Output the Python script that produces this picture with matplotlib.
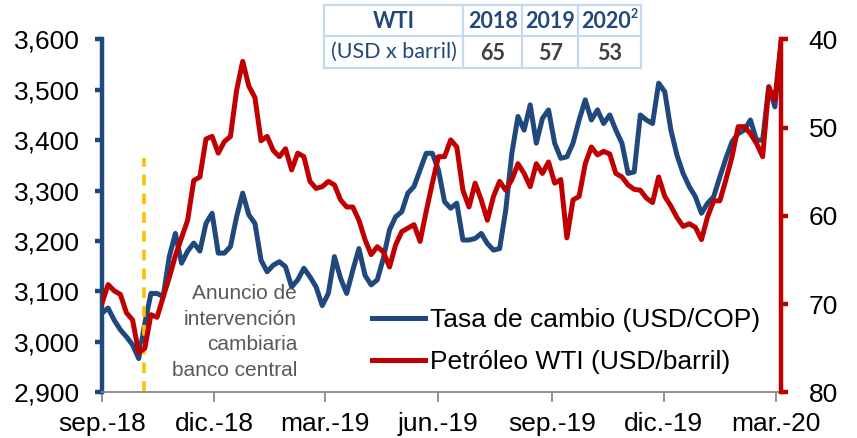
import matplotlib
matplotlib.use("Agg")
import matplotlib.pyplot as plt
import matplotlib.ticker as mticker
import pandas as pd
from matplotlib.patches import Rectangle

# tasa de cambio USD/COP, lecturas cada ~5 dias (sep-2018 a mar-2020)
cop = [3057, 3067, 3043, 3024, 3010, 2994, 2967, 3037, 3096, 3096,
       3090, 3169, 3215, 3156, 3180, 3196, 3180, 3235, 3255, 3176,
       3176, 3189, 3248, 3295, 3252, 3235, 3162, 3139, 3152, 3159,
       3149, 3109, 3123, 3146, 3129, 3109, 3072, 3096, 3169, 3126,
       3096, 3142, 3185, 3132, 3113, 3123, 3166, 3222, 3248, 3258,
       3295, 3308, 3341, 3374, 3374, 3341, 3278, 3265, 3275, 3202,
       3202, 3205, 3215, 3195, 3182, 3185, 3261, 3374, 3447, 3420,
       3470, 3394, 3443, 3460, 3394, 3364, 3367, 3394, 3440, 3480,
       3440, 3460, 3433, 3450, 3420, 3394, 3334, 3337, 3450, 3440,
       3433, 3513, 3496, 3420, 3370, 3334, 3308, 3288, 3255, 3275,
       3288, 3327, 3364, 3397, 3413, 3420, 3440, 3400, 3400, 3506,
       3466, 3590]

# petroleo WTI USD/barril
wti = [69.9, 67.8, 68.5, 68.9, 71.0, 71.8, 75.5, 75.0, 71.2, 71.5,
       69.2, 67.0, 64.5, 62.5, 60.5, 56.0, 55.6, 51.3, 51.0, 52.9,
       51.6, 51.0, 45.8, 42.5, 45.3, 46.6, 51.5, 51.0, 52.6, 53.3,
       52.4, 54.8, 52.9, 53.3, 56.1, 56.9, 56.7, 56.1, 56.5, 58.2,
       59.0, 59.0, 60.5, 62.7, 64.4, 63.5, 64.1, 65.8, 63.3, 61.8,
       61.4, 61.0, 62.9, 59.5, 56.3, 53.3, 53.3, 51.4, 52.2, 57.1,
       59.0, 56.3, 58.2, 60.5, 57.8, 56.1, 57.1, 55.9, 54.1, 55.2,
       56.7, 54.1, 55.2, 53.9, 56.3, 55.9, 62.5, 58.2, 57.8, 54.1,
       52.2, 53.1, 52.7, 53.0, 55.2, 55.6, 56.5, 57.0, 57.1, 58.0,
       58.5, 55.6, 57.8, 58.9, 60.2, 61.2, 60.9, 61.3, 62.7, 60.1,
       58.3, 58.3, 55.9, 53.3, 49.9, 49.9, 50.7, 51.8, 53.3, 45.4,
       46.9, 40.3]

dates = pd.date_range("2018-09-01", "2020-03-05", periods=len(cop))
event_date = pd.Timestamp("2018-10-05")
event_top = 3365

tick_dates = pd.to_datetime(["2018-09-01", "2018-12-01", "2019-03-01", "2019-06-01",
                             "2019-09-01", "2019-12-01", "2020-03-01"])
tick_labels = ["sep.-18", "dic.-18", "mar.-19", "jun.-19", "sep.-19", "dic.-19", "mar.-20"]

table_years = ["2018", "2019", "2020"]
table_values = ["65", "57", "53"]

BLUE = "#1F497D"
RED = "#C00000"
GOLD = "#FFC000"
GREY = "#898989"

plt.rcParams["font.family"] = ["Liberation Sans", "DejaVu Sans"]
plt.rcParams["font.size"] = 19

fig = plt.figure(figsize=(8.57, 4.38), dpi=100)
ax = fig.add_axes([102 / 857, 1 - 392.3 / 438, 679 / 857, 353 / 438])
ax2 = ax.twinx()

ax.plot(dates, cop, color=BLUE, lw=3.6, solid_joinstyle="round", label="Tasa de cambio (USD/COP)")
ax2.plot(dates, wti, color=RED, lw=3.6, solid_joinstyle="round", label="Petróleo WTI (USD/barril)")
ax.plot([event_date, event_date], [2900, event_top], color=GOLD, lw=2.6, ls=(0, (3, 2.2)))

ax.set_xlim(dates[0], dates[-1])
ax.set_ylim(2900, 3600)
ax.yaxis.set_major_locator(mticker.MultipleLocator(100))
ax.yaxis.set_major_formatter(mticker.StrMethodFormatter("{x:,.0f}"))
ax2.set_ylim(80, 40)
ax2.yaxis.set_major_locator(mticker.MultipleLocator(10))

ax.set_xticks(tick_dates)
ax.set_xticklabels(tick_labels)

for a in (ax, ax2):
    a.spines["top"].set_visible(False)
ax.spines["right"].set_visible(False)
ax2.spines["left"].set_visible(False)
ax2.spines["bottom"].set_visible(False)
ax.spines["left"].set_color(BLUE)
ax.spines["left"].set_linewidth(3.2)
ax2.spines["right"].set_color(RED)
ax2.spines["right"].set_linewidth(3.2)
ax.spines["bottom"].set_color(GREY)
ax.spines["bottom"].set_linewidth(1.3)

ax.tick_params(axis="y", colors=BLUE, labelcolor="black", width=3.2, length=5, pad=11, labelsize=19)
ax2.tick_params(axis="y", colors=RED, labelcolor="black", width=3.2, length=5, pad=15, labelsize=19)
ax.tick_params(axis="x", colors=GREY, labelcolor="black", width=1.3, length=7, pad=7, labelsize=19)

h1, l1 = ax.get_legend_handles_labels()
h2, l2 = ax2.get_legend_handles_labels()
ax2.legend(h1 + h2, l1 + l2, loc="upper left", bbox_to_anchor=(372 / 857, 1 - 308 / 438),
           bbox_transform=fig.transFigure, frameon=False, fontsize=19, handlelength=2.0,
           handletextpad=0.2, labelspacing=0.68, borderpad=0, borderaxespad=0)

fig.text(297 / 857, 1 - 284 / 438, "Anuncio de\nintervención\ncambiaria\nbanco central",
         ha="right", va="top", ma="right", fontsize=15, color="#595959", linespacing=1.45)

# tabla WTI
tab = fig.add_axes([0, 0, 1, 1], zorder=5)
tab.set_xlim(0, 857)
tab.set_ylim(438, 0)
tab.axis("off")
xs = [324, 463, 522.5, 578.5, 641.5]
ys = [5, 36, 68]
tab.add_patch(Rectangle((xs[0], ys[0]), xs[-1] - xs[0], ys[-1] - ys[0],
                        facecolor="white", edgecolor="#C5D9F1", lw=1.6))
for x in xs[1:-1]:
    tab.plot([x, x], [ys[0], ys[-1]], color="#C5D9F1", lw=1.6)
tab.plot([xs[0], xs[-1]], [ys[1], ys[1]], color="#C5D9F1", lw=1.6)

tfont = ["Lato", "DejaVu Sans"]
tab.text((xs[0] + xs[1]) / 2, 22, "WTI", ha="center", va="center", fontsize=15.5,
         fontweight="bold", color=BLUE, family=tfont)
tab.text((xs[0] + xs[1]) / 2, 52, "(USD x barril)", ha="center", va="center", fontsize=15.5,
         color=BLUE, family=tfont)
for i, (yr, val) in enumerate(zip(table_years, table_values)):
    cx = (xs[i + 1] + xs[i + 2]) / 2
    if yr == "2020":
        cx -= 4
        tab.text(cx + 25, 14, "2", ha="left", va="center", fontsize=9, fontweight="bold",
                 color=BLUE, family=tfont)
    tab.text(cx, 22, yr, ha="center", va="center", fontsize=15.5, fontweight="bold",
             color=BLUE, family=tfont)
    tab.text((xs[i + 1] + xs[i + 2]) / 2, 53, val, ha="center", va="center", fontsize=15.5,
             fontweight="bold", color="#404040", family=tfont)

fig.savefig("out.png", dpi=100)
